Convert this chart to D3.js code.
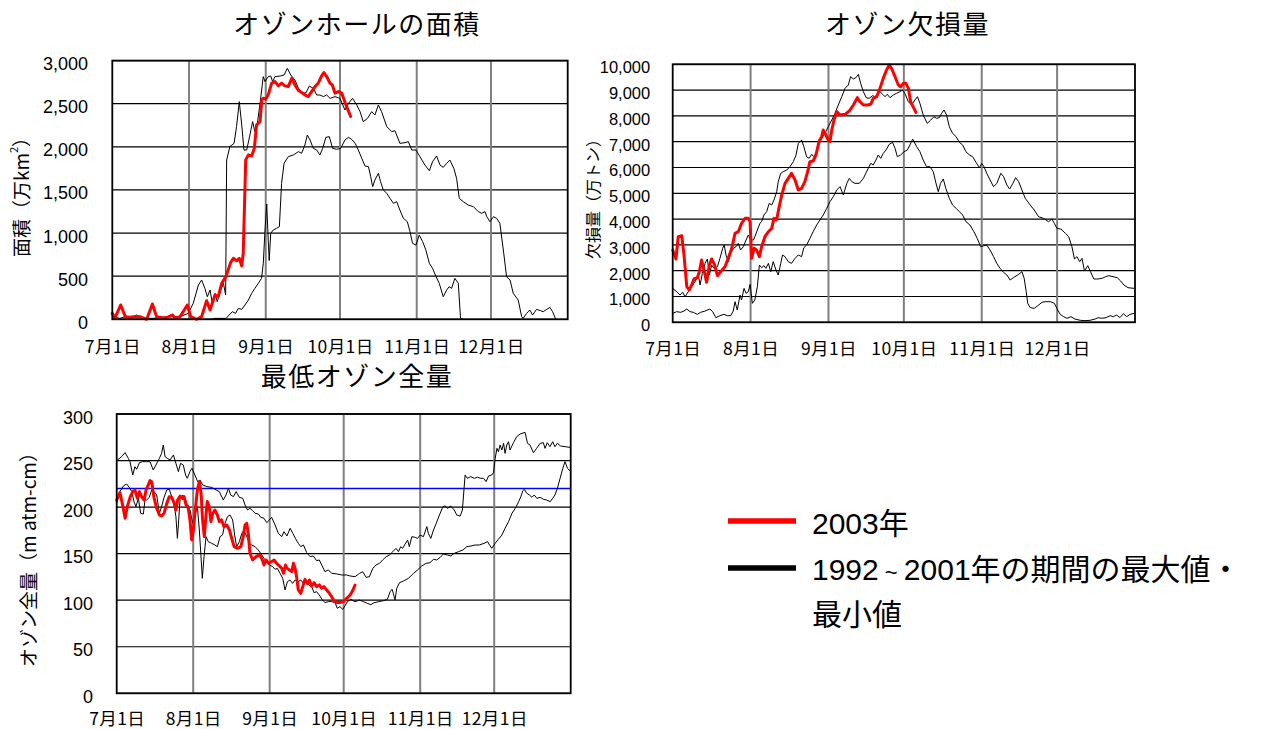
<!DOCTYPE html>
<html><head><meta charset="utf-8">
<script src="https://cdn.jsdelivr.net/npm/d3@7"></script>
<style>
body{margin:0;background:#fff;}
svg{display:block;font-family:"Noto Sans CJK JP","Liberation Sans",sans-serif;}
</style></head><body>
<svg id="c" width="1265" height="729"></svg>
<script>
// ---------- shared ----------
const monthLabels = ["7月1日","8月1日","9月1日","10月1日","11月1日","12月1日"];
const monthDays = [0,31,62,92,123,153];   // days since 7月1日
const dayDomain = [0,184];

// ---------- オゾンホールの面積 (万km2) ----------
const areaTicks = [0,500,1000,1500,2000,2500,3000];
const area2003 = [[0,70],[1,12],[3.4,166],[5.5,12],[8.5,31],[11.2,31],[13.9,0],[16.2,178],[17.9,31],[21.3,12],[24.4,50],[25.3,12],[27.4,31],[30.3,166],[31.7,31],[34.1,0],[36.1,31],[38.1,216],[39.5,108],[41.5,282],[42.8,263],[44.2,418],[45.9,495],[47.8,657],[48.9,708],[50.3,680],[51.3,708],[52.3,619],[52.9,766],[53.9,1849],[55,1907],[56.3,1895],[57.4,1984],[58.3,2255],[59.7,2294],[60.4,2545],[61,2564],[62,2552],[63,2603],[64.4,2738],[65.7,2757],[67.1,2707],[68.4,2738],[69.7,2707],[71.1,2699],[72.5,2795],[73.8,2718],[75.2,2653],[76.5,2630],[77.8,2603],[79.2,2583],[80.1,2622],[81.9,2699],[83.2,2738],[84.6,2823],[85.5,2862],[86.6,2815],[88,2738],[88.9,2718],[90,2622],[91.4,2641],[92.7,2622],[94.4,2487],[96.3,2352]];
const areaMax = [[0,30],[3.1,11],[5.8,38],[8.5,30],[9.8,50],[12.5,11],[16.6,11],[22,30],[27.4,30],[30.7,69],[32.7,185],[34.8,398],[36.1,456],[37.4,359],[38.4,262],[39.5,340],[40.4,185],[41.5,301],[42.4,204],[43.8,340],[44.9,417],[45.8,282],[46.2,1847],[47.5,2002],[49.2,2041],[50.2,2234],[51.3,2524],[52.3,2253],[53.2,1963],[54.3,1963],[55.6,2137],[56.7,2292],[57.6,2176],[58.6,2272],[59.7,2504],[61,2814],[61.7,2756],[63,2814],[64,2821],[64.8,2756],[65.7,2814],[67.8,2821],[69.4,2833],[70.7,2910],[72.1,2833],[73.8,2775],[75.2,2678],[76.9,2620],[78.3,2628],[79.6,2705],[81.2,2678],[82.6,2601],[83.9,2601],[85.3,2582],[86.6,2601],[88,2562],[90,2582],[92,2562],[94,2427],[95.4,2504],[97.1,2562],[98.8,2485],[100.1,2408],[101.4,2292],[103.1,2330],[104.8,2408],[106.1,2369],[107.5,2485],[108.8,2408],[110.9,2234],[112.9,2176],[114.2,2187],[116.2,2041],[118.3,2048],[119.6,2060],[121,1963],[122.7,1963],[124.3,1886],[126.3,1789],[128.1,1723],[129.4,1828],[131,1894],[132.4,1789],[133.7,1762],[135.1,1809],[136.4,1847],[138,1750],[139.1,1635],[140.2,1403],[141.8,1364],[143.8,1325],[145.9,1306],[147.9,1248],[149.2,1229],[150.6,1248],[151.3,1190],[152.6,1132],[154,1190],[155.3,1171],[156.6,1113],[158,803],[159.3,494],[160.7,456],[162,301],[164,224],[165.4,30],[166,11],[167.4,69],[168.7,108],[169.8,50],[171.4,115],[173.1,100],[174.1,88],[175.5,115],[176.8,138],[177.9,88],[179.2,0]];
const areaMin = [[0,0],[40,0],[41.2,11],[46,11],[47.2,50],[48.5,88],[49.8,69],[50.9,127],[52.3,115],[53.6,166],[55,224],[56.3,301],[57.6,359],[59,417],[60.3,475],[61,649],[61.7,1035],[62.4,1337],[63,919],[63.4,680],[64,997],[65,1035],[66.4,1055],[67.5,1074],[68.4,1577],[69.4,1809],[71.1,1886],[73.1,1905],[75.2,1944],[76.5,1925],[77.8,2021],[78.8,2137],[79.9,2079],[81.2,1983],[82.6,1963],[83.9,1905],[85,1983],[86.3,2110],[87.7,2118],[89,1983],[90.6,1971],[92.3,1983],[94,2079],[95.4,2110],[96.7,2087],[98.1,2041],[99.4,1963],[100.8,1867],[102.1,1778],[103.5,1770],[104.4,1654],[105.2,1538],[106.1,1615],[107.5,1693],[108.4,1596],[109.5,1499],[110.9,1461],[112.2,1403],[113.6,1345],[114.9,1364],[116.2,1267],[117.6,1171],[119.2,1132],[120.3,1016],[121.3,881],[122.7,861],[124,977],[125.4,900],[126.7,803],[128.1,649],[129.4,591],[130.8,494],[132.1,417],[133.7,262],[135.1,340],[136.1,378],[137.1,359],[138.4,475],[139.8,417],[140.7,11],[141.8,0]];

// ---------- オゾン欠損量 (万トン) ----------
const deficitTicks = [0,1000,2000,3000,4000,5000,6000,7000,8000,9000,10000];
const deficit2003 = [[0,2800],[1.3,2453],[2.2,3319],[3.6,3357],[4.5,2608],[5.6,1381],[6.6,1252],[7.5,1445],[8.5,1678],[9.8,1730],[10.6,1962],[11.5,2414],[12.6,1962],[13.5,1549],[14.6,2220],[15.5,2453],[16.6,2246],[17.8,1807],[19.1,1962],[20.8,2156],[22.1,2479],[23.5,2866],[24.8,3448],[26.1,3512],[27.4,3836],[28.8,4029],[30.1,4029],[30.8,3900],[31.4,2479],[32.4,2866],[33.4,2802],[34.5,2543],[35.4,2931],[36.7,3319],[38.1,3512],[39.4,3642],[40.3,4029],[41.1,3965],[41.6,4094],[42.4,4482],[43.4,4934],[44.7,5386],[46,5580],[47.3,5774],[48.7,5515],[50,5127],[51.3,5192],[52.6,5451],[53.9,5903],[54.6,6226],[55.9,6252],[57,6484],[58.3,7027],[59.3,7195],[59.9,7453],[61,7259],[61.9,7065],[62.6,7001],[63.3,7453],[64.2,7841],[65.3,8164],[66.6,8034],[68.6,8060],[70.3,8190],[71.9,8422],[73.5,8706],[74.5,8551],[75.9,8422],[77.5,8422],[78.8,8448],[79.8,8680],[81.2,8745],[82.5,9068],[83.8,9456],[85.1,9779],[86.2,9972],[87.1,9843],[88.5,9520],[89.8,9197],[90.7,9133],[91.8,9262],[92.8,9262],[93.8,9068],[94.7,8551],[96.8,8138]];
const deficitMax = [[0,1316],[1.6,1187],[2.9,1058],[4,1161],[4.9,993],[6.2,1187],[7.5,1381],[8.9,1574],[10.2,1833],[10.9,1445],[11.8,1898],[12.9,2285],[13.8,2453],[14.6,1833],[15.5,2220],[16.4,2091],[17.8,2156],[18.8,2479],[19.9,2866],[20.5,2995],[21.2,2608],[22.1,2350],[23.1,2673],[24.1,2866],[25.2,2931],[26.1,3060],[27,2802],[28.1,2931],[29.2,3189],[30.1,3383],[31,3189],[32.1,3189],[32.7,3319],[33.7,3577],[34.7,3836],[35.4,3900],[36.3,4158],[37.4,4288],[38.4,4610],[39.4,4546],[40.3,4740],[41.4,5063],[42,5451],[43,5774],[44,5838],[45.4,5903],[46.7,6032],[48,6226],[49.1,6484],[50,6936],[51.3,7065],[52.2,6807],[53.3,6419],[54.3,6355],[55.3,6510],[56.2,6419],[57.3,6613],[58.3,6898],[59.3,7130],[60.6,7324],[61.9,7582],[63.3,7841],[64.6,8099],[65.9,8422],[67.3,8745],[68.6,9068],[69.9,9197],[70.8,9520],[71.9,9430],[72.9,9482],[73.9,9611],[74.8,9262],[75.9,8939],[77,8706],[78.2,8680],[79.6,8784],[80.5,8745],[81.4,8835],[82.5,8939],[83.6,8835],[84.5,8745],[85.4,8835],[86.5,8706],[87.8,8810],[89.1,8874],[90.4,8939],[91.5,9003],[92.4,8874],[93.8,8551],[95.1,8422],[96.4,8616],[97.4,8745],[98.4,8487],[99.7,8034],[101.3,7711],[102.7,7841],[104,7970],[105,7905],[106.1,7931],[107,8099],[108,8228],[109,8034],[110.1,7582],[111.4,7324],[112.8,7195],[114.1,6975],[115.4,6872],[116.7,6613],[118.1,6484],[119.4,6419],[120.7,6200],[122.1,5993],[123,6161],[123.9,6032],[125,5774],[126.3,5515],[127.7,5257],[129,5386],[130.6,5774],[131.7,5645],[133,5321],[134.1,5166],[135.4,5386],[136.5,5605],[137.7,5451],[139,5127],[140.3,4804],[142.3,4546],[143.9,4352],[145.6,4094],[147.6,4029],[149.6,3900],[150.9,4003],[151.9,3836],[152.9,3642],[154.5,3616],[156.3,3448],[157.6,3319],[158.9,2931],[159.9,2453],[160.9,2544],[162,2350],[162.9,2479],[163.9,1988],[165.2,2195],[166.3,1962],[167.6,1678],[169.2,1678],[170.9,1704],[172.3,1768],[173.6,1807],[175.3,1768],[176.9,1730],[178.3,1600],[179.6,1445],[181.2,1342],[183.6,1316]];
const deficitMin = [[0,347],[1.6,412],[3.2,386],[4.5,438],[5.6,515],[6.9,412],[8.2,386],[9.8,308],[11.1,386],[12.9,438],[14.8,515],[15.9,412],[17.2,179],[18.8,257],[20.4,308],[21.7,257],[23.1,257],[24.1,438],[24.8,799],[25.7,476],[26.8,1058],[27.4,864],[28.4,1316],[29.2,1122],[30.1,1187],[30.8,1471],[31.7,735],[32.7,864],[33.7,1381],[34.5,2220],[35.4,2117],[36.3,2195],[37.1,2091],[38.1,2285],[39,1962],[40,2350],[41.1,2027],[42,1833],[43,2285],[43.7,2608],[44.7,2544],[46,2350],[47.3,2285],[48.7,2479],[50,2608],[51.3,2544],[52.2,2892],[53.3,2995],[54.6,3254],[55.9,3512],[57.3,3771],[58.6,3965],[59.9,4158],[61.3,4417],[62.6,4675],[63.9,4869],[65.3,5127],[66.6,5257],[67.9,4934],[69.3,5386],[70.3,5580],[71.3,5451],[72.5,5386],[74.3,5386],[75.9,5580],[77.5,5903],[78.8,6161],[79.8,6097],[80.9,6290],[81.8,6484],[82.8,6355],[83.8,6548],[84.9,6678],[86.2,6898],[87.5,6975],[88.5,6743],[89.4,6419],[90.7,6484],[92.1,6613],[93.4,6678],[94.4,6872],[95.5,7104],[97.1,6807],[98.4,6613],[99.7,6290],[101,6032],[102.4,6032],[103.7,5838],[104.8,5386],[105.7,5063],[106.6,5386],[107.7,5554],[108.7,5192],[110.1,4804],[111.4,4546],[112.8,4417],[114.1,4288],[115.4,4158],[116.7,3900],[118.3,3771],[119.9,3512],[121.2,3254],[122.6,2931],[123.9,2970],[125,2995],[126.3,2802],[127.7,2544],[129,2285],[130.3,2091],[131.7,1936],[133,1833],[134.3,1639],[135.6,1730],[137.3,1833],[139,1962],[139.9,1704],[140.7,1187],[141.3,735],[142.3,567],[143.9,541],[145.3,644],[147,773],[148.3,799],[150.3,799],[151.9,735],[152.9,541],[154.2,308],[155.6,218],[156.9,155],[158.5,218],[160.1,127],[162.2,77],[164.1,64],[166.1,77],[168.1,127],[169.4,179],[170.8,155],[172.5,179],[174.1,257],[175.4,218],[176.7,283],[178,179],[179.4,334],[180.7,218],[182,308],[183.6,347]];

// ---------- 最低オゾン全量 (m atm-cm) ----------
const ozoneTicks = [0,50,100,150,200,250,300];
const ozoneRef = 220;
const ozone2003 = [[0,207.6],[1.3,215.5],[2.4,202.3],[3.4,188],[4.3,200.5],[5.4,210.5],[6.5,216.6],[7.4,218.4],[8.4,209.4],[9.2,216.6],[10.1,211.2],[11.1,207.6],[11.9,218.4],[12.8,223.8],[13.5,228.4],[14.2,227.3],[15.1,210.5],[16.2,198.7],[17.3,191.5],[18.2,190.5],[19.2,193.3],[20.3,204],[21.3,211.2],[22.3,210.5],[23.2,204.8],[24,196.9],[24.7,207.6],[25.7,211.9],[26.7,209.4],[27.3,211.2],[28.1,202.3],[28.9,200.5],[29.7,186.2],[30.4,164.7],[31.1,175.4],[31.7,193.3],[32.7,218.4],[33.5,227.3],[34.2,214.8],[34.8,186.2],[35.5,168.3],[36.2,191.5],[36.7,205.9],[37.5,200.5],[38.2,184.4],[38.9,193.3],[39.8,196.9],[40.8,191.5],[41.6,184.4],[42.5,186.2],[43.5,179],[44.6,180.8],[45.7,175.4],[46.6,166.5],[47.6,157.5],[49,155.7],[50.3,157.5],[51.3,168.3],[52,180.8],[52.7,182.6],[53.4,170.1],[54,150.4],[55.1,143.2],[56.5,146.8],[57.8,148.6],[58.8,145],[59.7,137.8],[60.5,143.2],[61.6,139.6],[62.7,141.4],[63.8,143.2],[64.8,139.6],[65.9,136.8],[66.9,134.2],[67.6,128.9],[68.4,137.8],[69,134.2],[70,132.5],[71,130.7],[71.6,139.6],[72.3,134.2],[73,123.5],[73.6,111],[74.6,107.4],[75.4,114.6],[76.3,122.4],[77.3,118.1],[78.1,121.7],[79,115.3],[80,118.9],[81,114.6],[82.1,116.4],[83.1,112.8],[84,114.6],[85.1,111],[86.2,107.4],[87.1,103.8],[88.1,99.5],[89.2,97.4],[90.5,97.4],[91.9,98.5],[93.2,102],[94.6,105.6],[95.6,110],[96.6,116.3]];
const ozoneMax = [[0,249.9],[2,254.2],[3.4,258.5],[4.7,252.4],[5.4,248.8],[6.5,234.5],[7.4,243.4],[8.1,240.6],[9.2,247.7],[10.5,248.8],[12.1,248.8],[13.5,248.8],[14.8,239.9],[15.9,245.2],[17.3,252.4],[18.2,257.8],[18.9,266.7],[19.6,254.2],[20.5,252.4],[21.6,250.6],[23,256],[24,247],[25,238.1],[25.9,247],[27,245.2],[27.9,234.5],[28.6,230.9],[29.7,238.1],[30.5,241.7],[31.7,234.5],[32.8,227.3],[33.8,229.1],[34.8,223.8],[36.5,222],[38.5,221.2],[40.3,218.4],[41.6,216.6],[43.2,207.6],[44.3,213],[45.3,220.2],[46.2,213],[47.3,211.2],[48.4,216.6],[49.7,210.5],[51.1,209.4],[52,202.3],[53,196.9],[54,198.7],[55.1,196.2],[56.1,193.3],[57.4,192.6],[58.4,189],[59.7,188],[60.8,183.3],[61.9,186.2],[62.8,189],[64.2,180.8],[65.5,171.8],[66.9,168.3],[67.8,173.6],[69,169],[70.3,177.2],[71.4,171.8],[72.4,166.5],[73.6,161.1],[74.6,157.5],[75.7,159.3],[77,151.1],[78.4,146.8],[79.7,147.5],[81,142.5],[82.1,143.2],[83.1,137.8],[84.4,130.7],[85.8,132.5],[87.1,128.9],[89.2,128.2],[91.2,127.1],[93.2,127.1],[94.6,126],[96.6,125.3],[98.4,128.8],[99.7,130.6],[101.1,124.5],[102.4,125.3],[103.8,134.2],[105.1,137.8],[106.5,139.6],[107.8,143.2],[109.2,146.7],[110.5,148.5],[111.9,152.1],[113.2,155.7],[114.2,152.1],[115.1,157.5],[115.9,155.7],[116.9,160.3],[117.9,164.6],[118.6,157.5],[119.6,168.2],[121,167.5],[121.9,166.4],[123,170],[124.3,168.2],[125.7,179],[126.3,171.8],[127.3,166.4],[128.4,175.4],[129.5,182.5],[130.8,191.5],[132.2,200.4],[133.1,201.2],[134.1,198.7],[135.4,201.2],[136.8,196.9],[137.8,191.5],[139.2,190.4],[140.1,196.9],[141.2,234.4],[142.1,230.9],[143.5,232.7],[144.9,230.9],[146.2,232],[147.6,230.9],[148.7,230.9],[149.7,227.3],[150.7,233.4],[152,234.4],[152.7,237],[153.4,252.3],[154.1,263.1],[154.7,259.5],[155.4,266.7],[156.1,261.3],[156.8,268.5],[157.4,257.7],[158.1,266.7],[158.8,270.2],[159.4,261.3],[160.8,269.2],[162.1,275.6],[163.5,278.5],[165.5,280.3],[166.5,268.5],[167.5,266.7],[168.9,258.4],[170.2,263.1],[171.6,268.5],[172.9,269.2],[173.6,263.1],[174.5,269.2],[175.6,264.9],[176.7,270.2],[177.6,264.9],[178.6,268.5],[179.9,265.6],[181.7,264.9],[183.7,264.2]];
const ozoneMin = [[0,204],[1.3,216.6],[2.7,222.7],[4,224.8],[5.1,221.2],[6.1,216.6],[7,205.9],[7.8,200.5],[8.8,209.4],[9.7,193.3],[10.8,192.6],[11.5,208.4],[12.1,207.6],[13.2,210.5],[14.2,218.4],[15.1,216.6],[16.2,213],[17.3,193.3],[18.2,200.5],[19.2,210.5],[20.3,218.4],[21.3,219.1],[22.3,211.2],[23.2,204],[24,189.7],[24.6,166.5],[25,180.8],[25.7,209.4],[26.7,213],[27.7,209.4],[28.6,202.3],[29.7,196.9],[30.8,182.6],[31.9,193.3],[32.7,200.5],[33.5,175.4],[34,153.9],[34.7,123.5],[35.4,146.8],[36.2,168.3],[37.1,162.9],[38.5,161.1],[39.8,159.3],[40.8,157.5],[41.9,168.3],[42.9,170.1],[43.9,182.6],[44.9,189.7],[45.9,191.5],[47,186.2],[47.8,170.1],[48.6,157.5],[49.7,162.9],[50.7,171.8],[51.6,175.4],[52.7,168.3],[53.8,161.1],[54.7,159.3],[56.1,157.5],[57.4,153.9],[58.8,148.6],[59.7,145],[60.8,141.4],[61.9,137.8],[63.2,136.1],[64.2,133.2],[65.1,134.2],[66.2,128.9],[67.3,123.5],[68.2,111],[69.2,119.9],[70.2,121.7],[71.3,118.1],[72.3,121.7],[73.6,119.9],[74.6,121.7],[75.7,118.1],[76.7,121],[77.8,116.4],[79,114.6],[80,108.1],[81,109.2],[82.1,105.6],[83.2,101],[84.4,97.4],[85.8,98.5],[87.1,98.5],[88.5,97.4],[89.4,91.3],[90.5,93.1],[91.6,90.2],[92.5,93.8],[93.5,98.5],[94.9,100.9],[96.6,98.4],[98.4,100.2],[100,98.4],[101.6,96.6],[103,95.2],[104.3,97.3],[106.1,98.4],[108.1,99.5],[109.7,100.9],[110.8,109.1],[111.6,111.7],[112.1,107.4],[112.8,100.2],[113.5,112.7],[114.6,118.8],[116.2,120.6],[118.2,123.5],[120.3,128.8],[121.9,132.4],[123.6,136.7],[125.4,139.6],[127,140.3],[128.4,143.9],[129.7,143.2],[131.1,146],[132.4,149.6],[134.1,148.5],[135.4,147.5],[136.8,150.3],[138.5,152.1],[140.3,153.9],[141.9,157.5],[143.5,158.2],[145.3,159.3],[147,159.3],[148.9,161.1],[150.3,162.9],[151.1,159.3],[152,155.7],[153.4,161.1],[154.7,165.4],[156.1,170],[157.4,177.2],[158.8,184.3],[160.2,193.3],[161.1,196.9],[161.9,200.4],[162.9,205.8],[163.8,211.2],[164.6,217.6],[165.2,219.1],[166.2,214.8],[167.3,213],[168.3,210.5],[169.2,213],[170.3,209.4],[171.6,210.5],[173,208.3],[174.3,207.6],[175.7,205.8],[176.7,209.4],[177.6,213],[178.6,220.1],[179.7,230.9],[180.8,241.6],[181.7,248.8],[182.7,241.6],[183.7,239.1]];

// ---------- legend ----------
const legendItems = [
  {color:"#ff0000", lines:[["2003年"]]},
  {color:"#000000", lines:[["1992", " ~ ", "2001年の期間の最大値・"],["最小値"]]}
];

// ---------- drawing ----------
const svg = d3.select("#c");

function panel(p){
  const g = svg.append("g");
  const x = d3.scaleLinear().domain(dayDomain).range([p.left,p.right]);
  const y = d3.scaleLinear().domain([0,p.yMax]).range([p.bottom,p.top]);

  g.append("g").selectAll("line").data(p.yTicks).join("line")
    .attr("x1",p.left).attr("x2",p.right)
    .attr("y1",d=>y(d)).attr("y2",d=>y(d))
    .attr("stroke","#000").attr("stroke-width",1.2);
  g.append("g").selectAll("line").data(monthDays.slice(1)).join("line")
    .attr("x1",d=>x(d)).attr("x2",d=>x(d))
    .attr("y1",p.top).attr("y2",p.bottom)
    .attr("stroke","#7f7f7f").attr("stroke-width",2);
  if(p.ref!=null){
    g.append("line").attr("x1",p.left).attr("x2",p.right)
      .attr("y1",y(p.ref)).attr("y2",y(p.ref))
      .attr("stroke","#0000ff").attr("stroke-width",1.3);
  }
  const line = d3.line().x(d=>x(d[0])).y(d=>y(d[1]));
  [p.max,p.min].forEach(s=>{
    g.append("path").attr("d",line(s)).attr("fill","none")
      .attr("stroke","#000").attr("stroke-width",1);
  });
  g.append("path").attr("d",line(p.y2003)).attr("fill","none")
    .attr("stroke","#ff0000").attr("stroke-width",3)
    .attr("stroke-linejoin","round").attr("stroke-linecap","round");
  g.append("rect").attr("x",p.left).attr("y",p.top)
    .attr("width",p.right-p.left).attr("height",p.bottom-p.top)
    .attr("fill","none").attr("stroke","#000").attr("stroke-width",1.8);

  const ya = g.append("g").attr("transform",`translate(${p.left},0)`)
    .call(d3.axisLeft(y).tickValues(p.yTicks).tickFormat(d3.format(","))
      .tickSize(0).tickPadding(p.tickPad));
  ya.select(".domain").remove();
  ya.selectAll("text").attr("dy",p.tickDy)
    .style("font-family","'Liberation Sans',Arial,sans-serif")
    .style("font-size",p.tickSize+"px").attr("fill","#000");

  const xa = g.append("g").attr("transform",`translate(0,${p.bottom})`)
    .call(d3.axisBottom(x).tickValues(monthDays).tickFormat((d,i)=>monthLabels[i]).tickSize(0));
  xa.select(".domain").remove();
  xa.selectAll("text").attr("y",p.monthOff).attr("dy",null)
    .style("font-family","'Noto Sans CJK JP',sans-serif")
    .style("font-size","17.5px").style("letter-spacing","0.4px").attr("fill","#000");

  g.append("text").attr("x",p.titleX).attr("y",p.titleY)
    .attr("text-anchor","middle").style("font-size","26px")
    .style("letter-spacing","1.5px").attr("fill","#000").text(p.title);

  const yt = g.append("text")
    .attr("transform",`translate(${p.yTitleX},${p.yTitleY}) rotate(-90)`)
    .attr("text-anchor","middle").attr("dominant-baseline","central")
    .attr("fill","#000").style("font-size",p.yTitleSize+"px");
  p.yTitle(yt);
}

panel({left:112.3,right:567.7,top:60.6,bottom:319.3,yMax:3000,yTicks:areaTicks,
  max:areaMax,min:areaMin,y2003:area2003,ref:null,
  tickPad:24.3,tickDy:9,tickSize:18,monthOff:33.5,
  title:"オゾンホールの面積",titleX:357,titleY:34,
  yTitleX:20,yTitleY:192.5,yTitleSize:19,
  yTitle:t=>{t.append("tspan").text("面積（万km");
    t.append("tspan").attr("dy",-7).style("font-size","11px").text("2");
    t.append("tspan").attr("dy",7).text("）");}
});
panel({left:672.7,right:1135,top:64.3,bottom:322.3,yMax:10000,yTicks:deficitTicks,
  max:deficitMax,min:deficitMin,y2003:deficit2003,ref:null,
  tickPad:22.5,tickDy:8.3,tickSize:16.5,monthOff:33,
  title:"オゾン欠損量",titleX:907.5,titleY:34,
  yTitleX:592,yTitleY:195,yTitleSize:16,
  yTitle:t=>t.text("欠損量（万トン）")
});
panel({left:116.7,right:570.7,top:414,bottom:693.3,yMax:300,yTicks:ozoneTicks,
  max:ozoneMax,min:ozoneMin,y2003:ozone2003,ref:ozoneRef,
  tickPad:23.7,tickDy:9,tickSize:18,monthOff:31.5,
  title:"最低オゾン全量",titleX:357,titleY:386,
  yTitleX:27.7,yTitleY:555,yTitleSize:19,
  yTitle:t=>t.text("オゾン全量（m atm-cm）")
});

// legend
const lg = svg.append("g").attr("class","legend");
const lgY = [521,568];
const txtY = [[533.5],[579.5,624.5]];
legendItems.forEach((it,i)=>{
  lg.append("line").attr("x1",728).attr("x2",796).attr("y1",lgY[i]).attr("y2",lgY[i])
    .attr("stroke",it.color).attr("stroke-width",5.5);
  it.lines.forEach((parts,j)=>{
    const t = lg.append("text").attr("x",812).attr("y",txtY[i][j]).attr("fill","#000")
      .style("font-family","'Liberation Sans','Noto Sans CJK JP',sans-serif")
      .style("font-size","30px");
    parts.forEach(s=>{
      const sp = t.append("tspan").text(s);
      if(s.trim()==="~") sp.style("font-size","22px");
    });
  });
});
</script>
</body></html>
